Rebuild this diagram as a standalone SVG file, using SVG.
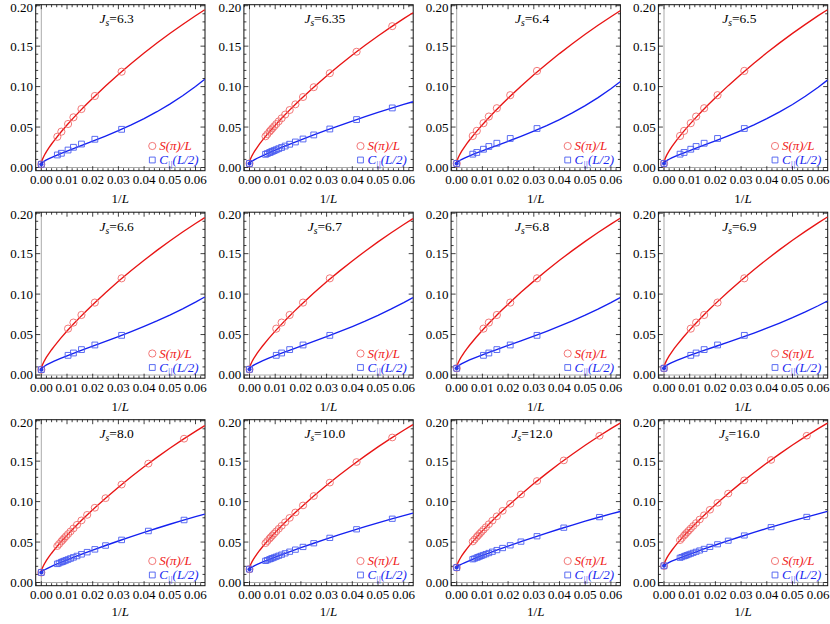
<svg xmlns="http://www.w3.org/2000/svg" xmlns:xlink="http://www.w3.org/1999/xlink" width="830" height="624" viewBox="0 0 830 624">
<style>
text { font-family: "Liberation Serif", "Times New Roman", serif; font-size: 13px; fill: #000; }
.xt { text-anchor: middle; }
.yt { text-anchor: end; }
.tt { text-anchor: middle; font-size: 13.5px; }
.al { text-anchor: middle; }
.it { font-style: italic; }
.lr { fill: #f01818; font-style: italic; }
.lb { fill: #1828f0; font-style: italic; }
.fr { fill: none; stroke: #111; stroke-width: 1; }
.tk { fill: none; stroke: #111; stroke-width: 0.8; }
.ax { stroke: #ababab; stroke-width: 1; }
.rl { fill: none; stroke: #e81414; stroke-width: 1.35; vector-effect: non-scaling-stroke; }
.bl { fill: none; stroke: #1420f0; stroke-width: 1.35; vector-effect: non-scaling-stroke; }
.rc { fill: none; stroke: #f06a6a; stroke-width: 0.9; vector-effect: non-scaling-stroke; }
.bs { fill: none; stroke: #4a5cf0; stroke-width: 0.9; vector-effect: non-scaling-stroke; }
.dot { fill: #2a38e6; }
</style>
<defs>
<circle id="c" class="rc" r="3.6"/>
<rect id="q" class="bs" x="-2.9" y="-2.9" width="5.8" height="5.8"/>
<path id="tk" class="tk" d="M5.6,0v4.5m0,157v4.5M31.3,0v4.5m0,157v4.5M57,0v4.5m0,157v4.5M82.7,0v4.5m0,157v4.5M108.4,0v4.5m0,157v4.5M134.1,0v4.5m0,157v4.5M159.8,0v4.5m0,157v4.5M0.46,0v2.5m0,161v2.5M10.74,0v2.5m0,161v2.5M15.88,0v2.5m0,161v2.5M21.02,0v2.5m0,161v2.5M26.16,0v2.5m0,161v2.5M36.44,0v2.5m0,161v2.5M41.58,0v2.5m0,161v2.5M46.72,0v2.5m0,161v2.5M51.86,0v2.5m0,161v2.5M62.14,0v2.5m0,161v2.5M67.28,0v2.5m0,161v2.5M72.42,0v2.5m0,161v2.5M77.56,0v2.5m0,161v2.5M87.84,0v2.5m0,161v2.5M92.98,0v2.5m0,161v2.5M98.12,0v2.5m0,161v2.5M103.26,0v2.5m0,161v2.5M113.54,0v2.5m0,161v2.5M118.68,0v2.5m0,161v2.5M123.82,0v2.5m0,161v2.5M128.96,0v2.5m0,161v2.5M139.24,0v2.5m0,161v2.5M144.38,0v2.5m0,161v2.5M149.52,0v2.5m0,161v2.5M154.66,0v2.5m0,161v2.5M164.94,0v2.5m0,161v2.5M0,162.8h4.5m160.3,0h4.5M0,122.35h4.5m160.3,0h4.5M0,81.9h4.5m160.3,0h4.5M0,41.45h4.5m160.3,0h4.5M0,1h4.5m160.3,0h4.5M0,154.71h2.5m164.3,0h2.5M0,146.62h2.5m164.3,0h2.5M0,138.53h2.5m164.3,0h2.5M0,130.44h2.5m164.3,0h2.5M0,114.26h2.5m164.3,0h2.5M0,106.17h2.5m164.3,0h2.5M0,98.08h2.5m164.3,0h2.5M0,89.99h2.5m164.3,0h2.5M0,73.81h2.5m164.3,0h2.5M0,65.72h2.5m164.3,0h2.5M0,57.63h2.5m164.3,0h2.5M0,49.54h2.5m164.3,0h2.5M0,33.36h2.5m164.3,0h2.5M0,25.27h2.5m164.3,0h2.5M0,17.18h2.5m164.3,0h2.5M0,9.09h2.5m164.3,0h2.5"/>
<path id="R0" class="rl" d="M5.6,0L5.86,-2.1L6.24,-3.52L6.89,-5.28L8.17,-8.08L9.46,-10.47L10.74,-12.64L13.31,-16.6L15.88,-20.26L18.45,-23.71L24.88,-31.75L31.3,-39.24L37.73,-46.34L44.15,-53.15L50.58,-59.71L57,-66.06L69.85,-78.22L82.7,-89.76L95.55,-100.73L108.4,-111.2L121.25,-121.19L134.1,-130.73L146.95,-139.83L159.8,-148.52L169.05,-154.52"/>
<path id="B1" class="bl" d="M5.6,0L5.86,-0.74L6.24,-1.23L6.89,-1.84L8.17,-2.78L9.46,-3.58L10.74,-4.3L13.31,-5.61L18.45,-7.96L24.88,-10.65L31.3,-13.19L37.73,-15.67L44.15,-18.12L57,-23.04L69.85,-28.14L82.7,-33.54L95.55,-39.34L108.4,-45.65L121.25,-52.55L134.1,-60.14L146.95,-68.5L159.8,-77.72L169.05,-84.94"/>
<path id="B2" class="bl" d="M5.6,0L5.86,-0.85L6.24,-1.4L6.89,-2.07L8.17,-3.09L9.46,-3.95L10.74,-4.72L13.31,-6.11L18.45,-8.57L24.88,-11.32L31.3,-13.9L37.73,-16.37L44.15,-18.78L57,-23.52L69.85,-28.25L82.7,-33.07L95.55,-38.06L108.4,-43.28L121.25,-48.78L134.1,-54.63L146.95,-60.86L159.8,-67.54L169.05,-72.65"/>
<path id="B35" class="bl" d="M5.6,0L5.86,-0.58L6.24,-0.99L6.89,-1.52L8.17,-2.4L9.46,-3.16L10.74,-3.88L13.31,-5.21L18.45,-7.68L24.88,-10.55L31.3,-13.3L37.73,-15.97L44.15,-18.57L57,-23.63L69.85,-28.53L82.7,-33.29L95.55,-37.92L108.4,-42.42L121.25,-46.79L134.1,-51.01L146.95,-55.09L159.8,-59.01L169.05,-61.73"/>
<g id="R17">
<use xlink:href="#c" x="148.38" y="-140.82"/><use xlink:href="#c" x="112.68" y="-114.58"/><use xlink:href="#c" x="85.91" y="-92.55"/><use xlink:href="#c" x="69.85" y="-78.22"/><use xlink:href="#c" x="59.14" y="-68.14"/><use xlink:href="#c" x="51.49" y="-60.63"/><use xlink:href="#c" x="45.76" y="-54.81"/><use xlink:href="#c" x="41.29" y="-50.15"/><use xlink:href="#c" x="37.73" y="-46.34"/><use xlink:href="#c" x="34.8" y="-43.15"/><use xlink:href="#c" x="32.37" y="-40.44"/><use xlink:href="#c" x="30.31" y="-38.11"/><use xlink:href="#c" x="28.55" y="-36.08"/><use xlink:href="#c" x="27.02" y="-34.3"/><use xlink:href="#c" x="25.68" y="-32.71"/><use xlink:href="#c" x="23.45" y="-30.02"/><use xlink:href="#c" x="21.66" y="-27.81"/>
</g>
<g id="B17">
<use xlink:href="#q" x="148.38" y="-55.53"/><use xlink:href="#q" x="112.68" y="-43.89"/><use xlink:href="#q" x="85.91" y="-34.46"/><use xlink:href="#q" x="69.85" y="-28.53"/><use xlink:href="#q" x="59.14" y="-24.46"/><use xlink:href="#q" x="51.49" y="-21.48"/><use xlink:href="#q" x="45.76" y="-19.22"/><use xlink:href="#q" x="41.29" y="-17.42"/><use xlink:href="#q" x="37.73" y="-15.97"/><use xlink:href="#q" x="34.8" y="-14.77"/><use xlink:href="#q" x="32.37" y="-13.75"/><use xlink:href="#q" x="30.31" y="-12.89"/><use xlink:href="#q" x="28.55" y="-12.14"/><use xlink:href="#q" x="27.02" y="-11.48"/><use xlink:href="#q" x="25.68" y="-10.9"/><use xlink:href="#q" x="23.45" y="-9.93"/><use xlink:href="#q" x="21.66" y="-9.13"/>
</g>
<g id="P1">
<use xlink:href="#c" x="21.66" y="132.06"/><use xlink:href="#c" x="25.68" y="126.96"/><use xlink:href="#c" x="32.37" y="119.28"/><use xlink:href="#c" x="37.73" y="112.64"/><use xlink:href="#c" x="45.76" y="104.31"/><use xlink:href="#c" x="59.14" y="91.28"/><use xlink:href="#c" x="85.91" y="67.01"/>
<use xlink:href="#q" x="21.66" y="150.26"/><use xlink:href="#q" x="25.68" y="148.56"/><use xlink:href="#q" x="32.37" y="145.33"/><use xlink:href="#q" x="37.73" y="142.58"/><use xlink:href="#q" x="45.76" y="139.34"/><use xlink:href="#q" x="59.14" y="134.57"/><use xlink:href="#q" x="85.91" y="124.62"/>
</g>
<g id="P2">
<use xlink:href="#c" x="32.37" y="116.44"/><use xlink:href="#c" x="37.73" y="110.38"/><use xlink:href="#c" x="45.76" y="102.77"/><use xlink:href="#c" x="59.14" y="90.39"/><use xlink:href="#c" x="85.91" y="66.13"/>
<use xlink:href="#q" x="32.37" y="143.14"/><use xlink:href="#q" x="37.73" y="140.8"/><use xlink:href="#q" x="45.76" y="137.4"/><use xlink:href="#q" x="59.14" y="132.79"/><use xlink:href="#q" x="85.91" y="123.16"/>
</g>
<g id="bg">
<line class="ax" x1="5.6" y1="0" x2="5.6" y2="166"/>
<line class="ax" x1="0" y1="162.8" x2="169.3" y2="162.8"/>
<use xlink:href="#tk"/>
<rect class="fr" x="0" y="0" width="169.3" height="166"/>
<use xlink:href="#c" x="116.6" y="141.3"/>
<use xlink:href="#q" x="116.6" y="155.3"/>
</g>
<g id="i0"><use xlink:href="#c"/><use xlink:href="#q"/><circle class="dot" r="2"/></g>
</defs>

<g id="p1" transform="translate(35.7,4.7)">
<use xlink:href="#bg"/>
<use xlink:href="#R0" transform="translate(0,159.56)"/>
<use xlink:href="#B1" transform="translate(0,159.56)"/>
<use xlink:href="#P1"/>
<use xlink:href="#i0" x="5.6" y="159.56"/>
<text class="tt" x="81" y="18.5"><tspan class="it">J</tspan><tspan class="it" font-size="9.5" dy="3">s</tspan><tspan dy="-3">=6.3</tspan></text>
<text class="lr" x="123.5" y="145.8">S(π)/L</text>
<text class="lb" x="123.5" y="159.8">C<tspan font-size="8.5" dy="2.5">||</tspan><tspan dy="-2.5">(L/2)</tspan></text>
<text class="yt"><tspan x="-2.6" y="167.3">0.00</tspan><tspan x="-2.6" y="126.85">0.05</tspan><tspan x="-2.6" y="86.4">0.10</tspan><tspan x="-2.6" y="45.95">0.15</tspan><tspan x="-2.6" y="6.9">0.20</tspan></text>
<text class="xt" y="179.6"><tspan x="5.6">0.00</tspan><tspan x="31.3">0.01</tspan><tspan x="57">0.02</tspan><tspan x="82.7">0.03</tspan><tspan x="108.4">0.04</tspan><tspan x="134.1">0.05</tspan><tspan x="159.8">0.06</tspan></text>
<text class="al" x="84.6" y="198.8">1/<tspan class="it">L</tspan></text>
</g>

<g id="p2" transform="translate(243.9,4.7)">
<use xlink:href="#bg"/>
<use xlink:href="#R0" transform="translate(0,158.76) scale(1,0.975)"/>
<use xlink:href="#B35" transform="translate(0,158.76)"/>
<use xlink:href="#R17" transform="translate(0,158.76) scale(1,0.975)"/>
<use xlink:href="#B17" transform="translate(0,158.76)"/>
<use xlink:href="#i0" x="5.6" y="158.76"/>
<text class="tt" x="81" y="18.5"><tspan class="it">J</tspan><tspan class="it" font-size="9.5" dy="3">s</tspan><tspan dy="-3">=6.35</tspan></text>
<text class="lr" x="123.5" y="145.8">S(π)/L</text>
<text class="lb" x="123.5" y="159.8">C<tspan font-size="8.5" dy="2.5">||</tspan><tspan dy="-2.5">(L/2)</tspan></text>
<text class="yt"><tspan x="-2.6" y="167.3">0.00</tspan><tspan x="-2.6" y="126.85">0.05</tspan><tspan x="-2.6" y="86.4">0.10</tspan><tspan x="-2.6" y="45.95">0.15</tspan><tspan x="-2.6" y="6.9">0.20</tspan></text>
<text class="xt" y="179.6"><tspan x="5.6">0.00</tspan><tspan x="31.3">0.01</tspan><tspan x="57">0.02</tspan><tspan x="82.7">0.03</tspan><tspan x="108.4">0.04</tspan><tspan x="134.1">0.05</tspan><tspan x="159.8">0.06</tspan></text>
<text class="al" x="84.6" y="198.8">1/<tspan class="it">L</tspan></text>
</g>

<g id="p3" transform="translate(451.1,4.7)">
<use xlink:href="#bg"/>
<use xlink:href="#R0" transform="translate(0,158.76) scale(1,0.988)"/>
<use xlink:href="#B1" transform="translate(0,158.76) scale(1,0.962)"/>
<use xlink:href="#P1" y="-0.8"/>
<use xlink:href="#i0" x="5.6" y="158.76"/>
<text class="tt" x="81" y="18.5"><tspan class="it">J</tspan><tspan class="it" font-size="9.5" dy="3">s</tspan><tspan dy="-3">=6.4</tspan></text>
<text class="lr" x="123.5" y="145.8">S(π)/L</text>
<text class="lb" x="123.5" y="159.8">C<tspan font-size="8.5" dy="2.5">||</tspan><tspan dy="-2.5">(L/2)</tspan></text>
<text class="yt"><tspan x="-2.6" y="167.3">0.00</tspan><tspan x="-2.6" y="126.85">0.05</tspan><tspan x="-2.6" y="86.4">0.10</tspan><tspan x="-2.6" y="45.95">0.15</tspan><tspan x="-2.6" y="6.9">0.20</tspan></text>
<text class="xt" y="179.6"><tspan x="5.6">0.00</tspan><tspan x="31.3">0.01</tspan><tspan x="57">0.02</tspan><tspan x="82.7">0.03</tspan><tspan x="108.4">0.04</tspan><tspan x="134.1">0.05</tspan><tspan x="159.8">0.06</tspan></text>
<text class="al" x="84.6" y="198.8">1/<tspan class="it">L</tspan></text>
</g>

<g id="p4" transform="translate(658.4,4.7)">
<use xlink:href="#bg"/>
<use xlink:href="#R0" transform="translate(0,158.76) scale(1,0.995)"/>
<use xlink:href="#B1" transform="translate(0,158.76) scale(1,0.981)"/>
<use xlink:href="#P1" y="-0.8"/>
<use xlink:href="#i0" x="5.6" y="158.76"/>
<text class="tt" x="81" y="18.5"><tspan class="it">J</tspan><tspan class="it" font-size="9.5" dy="3">s</tspan><tspan dy="-3">=6.5</tspan></text>
<text class="lr" x="123.5" y="145.8">S(π)/L</text>
<text class="lb" x="123.5" y="159.8">C<tspan font-size="8.5" dy="2.5">||</tspan><tspan dy="-2.5">(L/2)</tspan></text>
<text class="yt"><tspan x="-2.6" y="167.3">0.00</tspan><tspan x="-2.6" y="126.85">0.05</tspan><tspan x="-2.6" y="86.4">0.10</tspan><tspan x="-2.6" y="45.95">0.15</tspan><tspan x="-2.6" y="6.9">0.20</tspan></text>
<text class="xt" y="179.6"><tspan x="5.6">0.00</tspan><tspan x="31.3">0.01</tspan><tspan x="57">0.02</tspan><tspan x="82.7">0.03</tspan><tspan x="108.4">0.04</tspan><tspan x="134.1">0.05</tspan><tspan x="159.8">0.06</tspan></text>
<text class="al" x="84.6" y="198.8">1/<tspan class="it">L</tspan></text>
</g>

<g id="p5" transform="translate(35.7,212.2)">
<use xlink:href="#bg"/>
<use xlink:href="#R0" transform="translate(0,157.46) scale(1,0.984)"/>
<use xlink:href="#B2" transform="translate(0,157.46)"/>
<use xlink:href="#P2"/>
<use xlink:href="#i0" x="5.6" y="157.46"/>
<text class="tt" x="81" y="18.5"><tspan class="it">J</tspan><tspan class="it" font-size="9.5" dy="3">s</tspan><tspan dy="-3">=6.6</tspan></text>
<text class="lr" x="123.5" y="145.8">S(π)/L</text>
<text class="lb" x="123.5" y="159.8">C<tspan font-size="8.5" dy="2.5">||</tspan><tspan dy="-2.5">(L/2)</tspan></text>
<text class="yt"><tspan x="-2.6" y="167.3">0.00</tspan><tspan x="-2.6" y="126.85">0.05</tspan><tspan x="-2.6" y="86.4">0.10</tspan><tspan x="-2.6" y="45.95">0.15</tspan><tspan x="-2.6" y="6.9">0.20</tspan></text>
<text class="xt" y="179.6"><tspan x="5.6">0.00</tspan><tspan x="31.3">0.01</tspan><tspan x="57">0.02</tspan><tspan x="82.7">0.03</tspan><tspan x="108.4">0.04</tspan><tspan x="134.1">0.05</tspan><tspan x="159.8">0.06</tspan></text>
<text class="al" x="84.6" y="198.8">1/<tspan class="it">L</tspan></text>
</g>

<g id="p6" transform="translate(243.9,212.2)">
<use xlink:href="#bg"/>
<use xlink:href="#R0" transform="translate(0,157.14) scale(1,0.975)"/>
<use xlink:href="#B2" transform="translate(0,157.14) scale(1,0.988)"/>
<use xlink:href="#P2"/>
<use xlink:href="#i0" x="5.6" y="157.14"/>
<text class="tt" x="81" y="18.5"><tspan class="it">J</tspan><tspan class="it" font-size="9.5" dy="3">s</tspan><tspan dy="-3">=6.7</tspan></text>
<text class="lr" x="123.5" y="145.8">S(π)/L</text>
<text class="lb" x="123.5" y="159.8">C<tspan font-size="8.5" dy="2.5">||</tspan><tspan dy="-2.5">(L/2)</tspan></text>
<text class="yt"><tspan x="-2.6" y="167.3">0.00</tspan><tspan x="-2.6" y="126.85">0.05</tspan><tspan x="-2.6" y="86.4">0.10</tspan><tspan x="-2.6" y="45.95">0.15</tspan><tspan x="-2.6" y="6.9">0.20</tspan></text>
<text class="xt" y="179.6"><tspan x="5.6">0.00</tspan><tspan x="31.3">0.01</tspan><tspan x="57">0.02</tspan><tspan x="82.7">0.03</tspan><tspan x="108.4">0.04</tspan><tspan x="134.1">0.05</tspan><tspan x="159.8">0.06</tspan></text>
<text class="al" x="84.6" y="198.8">1/<tspan class="it">L</tspan></text>
</g>

<g id="p7" transform="translate(451.1,212.2)">
<use xlink:href="#bg"/>
<use xlink:href="#R0" transform="translate(0,156.09) scale(1,0.971)"/>
<use xlink:href="#B2" transform="translate(0,156.09) scale(1,0.973)"/>
<use xlink:href="#P2"/>
<use xlink:href="#i0" x="5.6" y="156.09"/>
<text class="tt" x="81" y="18.5"><tspan class="it">J</tspan><tspan class="it" font-size="9.5" dy="3">s</tspan><tspan dy="-3">=6.8</tspan></text>
<text class="lr" x="123.5" y="145.8">S(π)/L</text>
<text class="lb" x="123.5" y="159.8">C<tspan font-size="8.5" dy="2.5">||</tspan><tspan dy="-2.5">(L/2)</tspan></text>
<text class="yt"><tspan x="-2.6" y="167.3">0.00</tspan><tspan x="-2.6" y="126.85">0.05</tspan><tspan x="-2.6" y="86.4">0.10</tspan><tspan x="-2.6" y="45.95">0.15</tspan><tspan x="-2.6" y="6.9">0.20</tspan></text>
<text class="xt" y="179.6"><tspan x="5.6">0.00</tspan><tspan x="31.3">0.01</tspan><tspan x="57">0.02</tspan><tspan x="82.7">0.03</tspan><tspan x="108.4">0.04</tspan><tspan x="134.1">0.05</tspan><tspan x="159.8">0.06</tspan></text>
<text class="al" x="84.6" y="198.8">1/<tspan class="it">L</tspan></text>
</g>

<g id="p8" transform="translate(658.4,212.2)">
<use xlink:href="#bg"/>
<use xlink:href="#R0" transform="translate(0,156.09) scale(1,0.979)"/>
<use xlink:href="#B2" transform="translate(0,156.09) scale(1,0.926)"/>
<use xlink:href="#P2"/>
<use xlink:href="#i0" x="5.6" y="156.09"/>
<text class="tt" x="81" y="18.5"><tspan class="it">J</tspan><tspan class="it" font-size="9.5" dy="3">s</tspan><tspan dy="-3">=6.9</tspan></text>
<text class="lr" x="123.5" y="145.8">S(π)/L</text>
<text class="lb" x="123.5" y="159.8">C<tspan font-size="8.5" dy="2.5">||</tspan><tspan dy="-2.5">(L/2)</tspan></text>
<text class="yt"><tspan x="-2.6" y="167.3">0.00</tspan><tspan x="-2.6" y="126.85">0.05</tspan><tspan x="-2.6" y="86.4">0.10</tspan><tspan x="-2.6" y="45.95">0.15</tspan><tspan x="-2.6" y="6.9">0.20</tspan></text>
<text class="xt" y="179.6"><tspan x="5.6">0.00</tspan><tspan x="31.3">0.01</tspan><tspan x="57">0.02</tspan><tspan x="82.7">0.03</tspan><tspan x="108.4">0.04</tspan><tspan x="134.1">0.05</tspan><tspan x="159.8">0.06</tspan></text>
<text class="al" x="84.6" y="198.8">1/<tspan class="it">L</tspan></text>
</g>

<g id="p9" transform="translate(35.7,419.7)">
<use xlink:href="#bg"/>
<use xlink:href="#R0" transform="translate(0,152.77) scale(1,0.95)"/>
<use xlink:href="#B35" transform="translate(0,152.77) scale(1,0.945)"/>
<use xlink:href="#R17" transform="translate(0,152.77) scale(1,0.95)"/>
<use xlink:href="#B17" transform="translate(0,152.77) scale(1,0.945)"/>
<use xlink:href="#i0" x="5.6" y="152.77"/>
<text class="tt" x="81" y="18.5"><tspan class="it">J</tspan><tspan class="it" font-size="9.5" dy="3">s</tspan><tspan dy="-3">=8.0</tspan></text>
<text class="lr" x="123.5" y="145.8">S(π)/L</text>
<text class="lb" x="123.5" y="159.8">C<tspan font-size="8.5" dy="2.5">||</tspan><tspan dy="-2.5">(L/2)</tspan></text>
<text class="yt"><tspan x="-2.6" y="167.3">0.00</tspan><tspan x="-2.6" y="126.85">0.05</tspan><tspan x="-2.6" y="86.4">0.10</tspan><tspan x="-2.6" y="45.95">0.15</tspan><tspan x="-2.6" y="6.9">0.20</tspan></text>
<text class="xt" y="179.6"><tspan x="5.6">0.00</tspan><tspan x="31.3">0.01</tspan><tspan x="57">0.02</tspan><tspan x="82.7">0.03</tspan><tspan x="108.4">0.04</tspan><tspan x="134.1">0.05</tspan><tspan x="159.8">0.06</tspan></text>
<text class="al" x="84.6" y="196.3">1/<tspan class="it">L</tspan></text>
</g>

<g id="p10" transform="translate(243.9,419.7)">
<use xlink:href="#bg"/>
<use xlink:href="#R0" transform="translate(0,149.45) scale(1,0.935)"/>
<use xlink:href="#B35" transform="translate(0,149.45) scale(1,0.908)"/>
<use xlink:href="#R17" transform="translate(0,149.45) scale(1,0.935)"/>
<use xlink:href="#B17" transform="translate(0,149.45) scale(1,0.908)"/>
<use xlink:href="#i0" x="5.6" y="149.45"/>
<text class="tt" x="81" y="18.5"><tspan class="it">J</tspan><tspan class="it" font-size="9.5" dy="3">s</tspan><tspan dy="-3">=10.0</tspan></text>
<text class="lr" x="123.5" y="145.8">S(π)/L</text>
<text class="lb" x="123.5" y="159.8">C<tspan font-size="8.5" dy="2.5">||</tspan><tspan dy="-2.5">(L/2)</tspan></text>
<text class="yt"><tspan x="-2.6" y="167.3">0.00</tspan><tspan x="-2.6" y="126.85">0.05</tspan><tspan x="-2.6" y="86.4">0.10</tspan><tspan x="-2.6" y="45.95">0.15</tspan><tspan x="-2.6" y="6.9">0.20</tspan></text>
<text class="xt" y="179.6"><tspan x="5.6">0.00</tspan><tspan x="31.3">0.01</tspan><tspan x="57">0.02</tspan><tspan x="82.7">0.03</tspan><tspan x="108.4">0.04</tspan><tspan x="134.1">0.05</tspan><tspan x="159.8">0.06</tspan></text>
<text class="al" x="84.6" y="196.3">1/<tspan class="it">L</tspan></text>
</g>

<g id="p11" transform="translate(451.1,419.7)">
<use xlink:href="#bg"/>
<use xlink:href="#R0" transform="translate(0,147.83) scale(1,0.935)"/>
<use xlink:href="#B35" transform="translate(0,147.83) scale(1,0.908)"/>
<use xlink:href="#R17" transform="translate(0,147.83) scale(1,0.935)"/>
<use xlink:href="#B17" transform="translate(0,147.83) scale(1,0.908)"/>
<use xlink:href="#i0" x="5.6" y="147.83"/>
<text class="tt" x="81" y="18.5"><tspan class="it">J</tspan><tspan class="it" font-size="9.5" dy="3">s</tspan><tspan dy="-3">=12.0</tspan></text>
<text class="lr" x="123.5" y="145.8">S(π)/L</text>
<text class="lb" x="123.5" y="159.8">C<tspan font-size="8.5" dy="2.5">||</tspan><tspan dy="-2.5">(L/2)</tspan></text>
<text class="yt"><tspan x="-2.6" y="167.3">0.00</tspan><tspan x="-2.6" y="126.85">0.05</tspan><tspan x="-2.6" y="86.4">0.10</tspan><tspan x="-2.6" y="45.95">0.15</tspan><tspan x="-2.6" y="6.9">0.20</tspan></text>
<text class="xt" y="179.6"><tspan x="5.6">0.00</tspan><tspan x="31.3">0.01</tspan><tspan x="57">0.02</tspan><tspan x="82.7">0.03</tspan><tspan x="108.4">0.04</tspan><tspan x="134.1">0.05</tspan><tspan x="159.8">0.06</tspan></text>
<text class="al" x="84.6" y="196.3">1/<tspan class="it">L</tspan></text>
</g>

<g id="p12" transform="translate(658.4,419.7)">
<use xlink:href="#bg"/>
<use xlink:href="#R0" transform="translate(0,146.13) scale(1,0.924)"/>
<use xlink:href="#B35" transform="translate(0,146.13) scale(1,0.881)"/>
<use xlink:href="#R17" transform="translate(0,146.13) scale(1,0.924)"/>
<use xlink:href="#B17" transform="translate(0,146.13) scale(1,0.881)"/>
<use xlink:href="#i0" x="5.6" y="146.13"/>
<text class="tt" x="81" y="18.5"><tspan class="it">J</tspan><tspan class="it" font-size="9.5" dy="3">s</tspan><tspan dy="-3">=16.0</tspan></text>
<text class="lr" x="123.5" y="145.8">S(π)/L</text>
<text class="lb" x="123.5" y="159.8">C<tspan font-size="8.5" dy="2.5">||</tspan><tspan dy="-2.5">(L/2)</tspan></text>
<text class="yt"><tspan x="-2.6" y="167.3">0.00</tspan><tspan x="-2.6" y="126.85">0.05</tspan><tspan x="-2.6" y="86.4">0.10</tspan><tspan x="-2.6" y="45.95">0.15</tspan><tspan x="-2.6" y="6.9">0.20</tspan></text>
<text class="xt" y="179.6"><tspan x="5.6">0.00</tspan><tspan x="31.3">0.01</tspan><tspan x="57">0.02</tspan><tspan x="82.7">0.03</tspan><tspan x="108.4">0.04</tspan><tspan x="134.1">0.05</tspan><tspan x="159.8">0.06</tspan></text>
<text class="al" x="84.6" y="196.3">1/<tspan class="it">L</tspan></text>
</g>
</svg>
